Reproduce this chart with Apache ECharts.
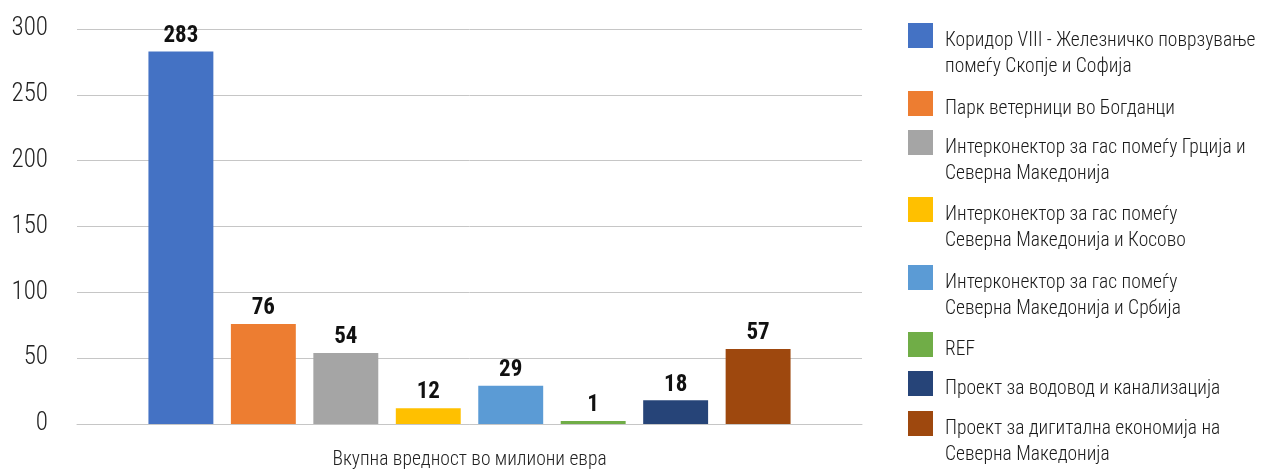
<!DOCTYPE html>
<html>
<head>
<meta charset="utf-8">
<script src="https://cdn.jsdelivr.net/npm/echarts@6/dist/echarts.min.js"></script>
<style>
html,body{margin:0;padding:0;background:#fff;}
#chart{width:1264px;height:470px;}
</style>
</head>
<body>
<div id="chart"></div>
<script>
var categories = ['Вкупна вредност во милиони евра'];
var seriesNames = [
  'Коридор VIII - Железничко поврзување\nпомеѓу Скопје и Софија',
  'Парк ветерници во Богданци',
  'Интерконектор за гас помеѓу Грција и\nСеверна Македонија',
  'Интерконектор за гас помеѓу\nСеверна Македонија и Косово',
  'Интерконектор за гас помеѓу\nСеверна Македонија и Србија',
  'REF',
  'Проект за водовод и канализација',
  'Проект за дигитална економија на\nСеверна Македонија'
];
var seriesValues = [283, 76, 54, 12, 29, 1, 18, 57];
var colors = ['#4472C4', '#ED7D31', '#A5A5A5', '#FFC000', '#5B9BD5', '#70AD47', '#264478', '#9E480E'];
var yTicks = [0, 50, 100, 150, 200, 250, 300];

var FONT = '"Roboto Condensed", "DejaVu Sans", sans-serif';
var STRETCH = 'condensed';
var legendTops = [23, 91, 130, 197, 265, 332, 371, 411];

var series = seriesNames.map(function (name, i) {
  return {
    name: name,
    type: 'bar',
    data: [seriesValues[i]],
    barGap: '27%',
    barCategoryGap: '18.2%',
    barMinHeight: 3,
    itemStyle: { color: colors[i] },
    label: {
      show: true,
      position: 'top',
      distance: 4,
      fontFamily: FONT,
      fontStyle: STRETCH,
      fontSize: 23,
      fontWeight: 'bold',
      color: '#111'
    }
  };
});

var legends = seriesNames.map(function (name, i) {
  var twoLine = name.indexOf('\n') >= 0;
  var h = twoLine ? 62 : 36;
  return {
    orient: 'vertical',
    left: 908,
    top: legendTops[i],
    padding: 0,
    itemGap: 0,
    itemWidth: 25,
    itemHeight: h,
    selectedMode: false,
    icon: 'path://M0,0L25,0L25,25L0,25Z M0,' + h,
    data: [name],
    textStyle: {
      fontFamily: FONT,
      fontStyle: STRETCH,
      fontWeight: 300,
      fontSize: 19.5,
      color: '#1a1a1a',
      lineHeight: 26,
      padding: [0, 0, 0, 7]
    }
  };
});

var chart = echarts.init(document.getElementById('chart'), null, { renderer: 'canvas' });
chart.setOption({
  animation: false,
  color: colors,
  grid: { left: 77, right: 402, top: 29, bottom: 45.5 },
  legend: legends,
  xAxis: {
    type: 'category',
    data: categories,
    axisTick: { show: false },
    axisLine: { show: true, lineStyle: { color: '#c6c6c6', width: 1 } },
    axisLabel: { fontFamily: FONT, fontStyle: STRETCH, fontWeight: 300, fontSize: 19.5, color: '#222', margin: 26 }
  },
  yAxis: {
    type: 'value',
    min: yTicks[0],
    max: yTicks[yTicks.length - 1],
    interval: yTicks[1] - yTicks[0],
    axisLine: { show: false },
    axisTick: { show: false },
    splitLine: { lineStyle: { color: '#c6c6c6', width: 1 } },
    axisLabel: { fontFamily: FONT, fontStyle: STRETCH, fontWeight: 300, fontSize: 25, color: '#222', margin: 29 }
  },
  series: series
});
</script>
</body>
</html>
